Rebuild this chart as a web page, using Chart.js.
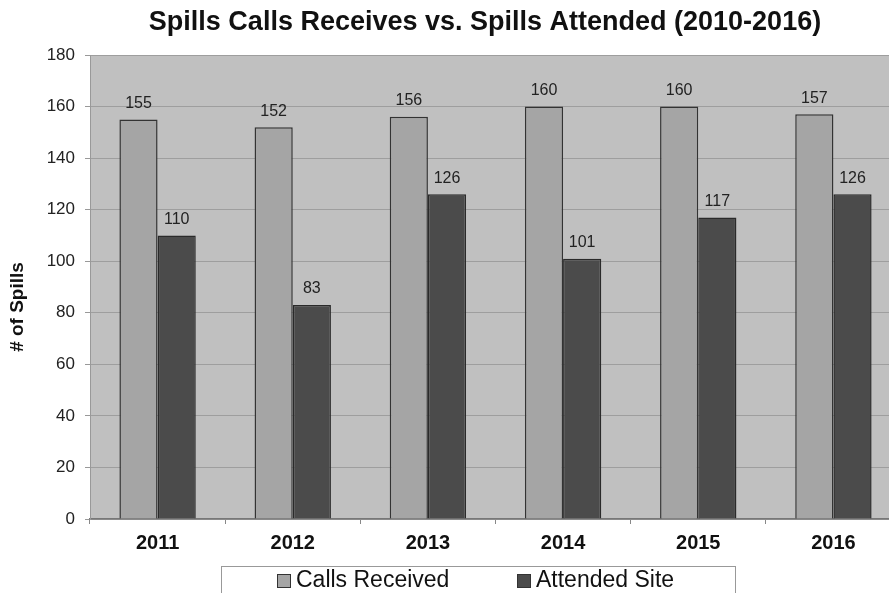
<!DOCTYPE html>
<html>
<head>
<meta charset="utf-8">
<script src="https://cdn.jsdelivr.net/npm/chart.js@4.4.0/dist/chart.umd.min.js"></script>
<style>
    body { margin: 0; background: #fff; overflow: hidden; }
    #wrap { width: 902px; height: 593px; position: relative; }
</style>
</head>
<body>
<div id="wrap"><canvas id="spillsChart"></canvas></div>
<script>
var years = ['2011', '2012', '2013', '2014', '2015', '2016'];
var callsReceived = [155, 152, 156, 160, 160, 157];
var attendedSite = [110, 83, 126, 101, 117, 126];
var chartTitle = 'Spills Calls Receives vs. Spills Attended (2010-2016)';
var yTitle = '# of Spills';

var FONT = '"Liberation Sans", Arial, sans-serif';

// gray plot area, title, y title, value labels and boxed legend
var extras = {
    id: 'extras',
    beforeDraw: function (chart) {
        var a = chart.chartArea, ctx = chart.ctx;
        ctx.save();
        ctx.fillStyle = '#c0c0c0';
        ctx.fillRect(a.left, a.top, a.right - a.left, a.bottom - a.top);
        ctx.restore();
    },
    afterDraw: function (chart) {
        var ctx = chart.ctx;
        ctx.save();
        ctx.fillStyle = '#111';
        ctx.textAlign = 'center';
        ctx.textBaseline = 'middle';
        ctx.font = 'bold 27px ' + FONT;
        ctx.fillText(chartTitle, 485, 23);

        ctx.save();
        ctx.translate(18, 307);
        ctx.rotate(-Math.PI / 2);
        ctx.font = 'bold 19px ' + FONT;
        ctx.fillText(yTitle, 0, 0);
        ctx.restore();

        ctx.font = '16px ' + FONT;
        ctx.fillStyle = '#222';
        ctx.textBaseline = 'bottom';
        chart.data.datasets.forEach(function (ds, i) {
            chart.getDatasetMeta(i).data.forEach(function (bar, j) {
                ctx.fillText(ds.data[j], bar.x, bar.y - 8);
            });
        });

        // legend
        ctx.strokeStyle = '#999';
        ctx.lineWidth = 1;
        ctx.fillStyle = '#fff';
        ctx.fillRect(221.5, 566.5, 514, 40);
        ctx.strokeRect(221.5, 566.5, 514, 40);
        var lx = [277, 517];
        ctx.font = '23px ' + FONT;
        ctx.textAlign = 'left';
        ctx.textBaseline = 'middle';
        chart.data.datasets.forEach(function (ds, i) {
            ctx.fillStyle = ds.backgroundColor;
            ctx.fillRect(lx[i], 574, 13, 13);
            ctx.strokeStyle = '#333';
            ctx.strokeRect(lx[i] + 0.5, 574.5, 13, 13);
            ctx.fillStyle = '#111';
            ctx.fillText(ds.label, lx[i] + 19, 581);
        });
        ctx.restore();
    }
};

var el = document.getElementById('spillsChart').getContext('2d');
var spillsChart = new Chart(el, {
    type: 'bar',
    data: {
        labels: years,
        datasets: [{
                label: 'Calls Received',
                data: callsReceived,
                backgroundColor: '#a5a5a5',
                borderColor: '#333333',
                borderWidth: 1.5,
                categoryPercentage: 0.565,
                barPercentage: 1
            },
            {
                label: 'Attended Site',
                data: attendedSite,
                backgroundColor: '#4b4b4b',
                borderColor: '#2a2a2a',
                borderWidth: 1.5,
                categoryPercentage: 0.565,
                barPercentage: 1
            }
        ]
    },
    options: {
        responsive: true,
        maintainAspectRatio: false,
        animation: false,
        layout: { padding: { top: 55, right: 1, bottom: 40, left: 0 } },
        plugins: {
            legend: { display: false },
            title: { display: false },
            tooltip: { enabled: false }
        },
        scales: {
            x: {
                grid: {
                    offset: true,
                    drawOnChartArea: false,
                    drawTicks: true,
                    tickLength: 5,
                    color: '#888'
                },
                border: { color: '#777', width: 1.5 },
                ticks: {
                    color: '#111',
                    padding: 7,
                    font: { family: FONT, size: 20, weight: 'bold' }
                },
                afterFit: function (s) { s.height = 34; }
            },
            y: {
                min: 0,
                max: 180,
                ticks: {
                    stepSize: 20,
                    color: '#222',
                    padding: 10,
                    font: { family: FONT, size: 17 }
                },
                grid: {
                    color: '#9e9e9e',
                    tickLength: 5,
                    tickColor: '#999'
                },
                border: { color: '#999', width: 1 },
                afterFit: function (s) { s.width = 90; }
            }
        }
    },
    plugins: [extras]
});
</script>
</body>
</html>
